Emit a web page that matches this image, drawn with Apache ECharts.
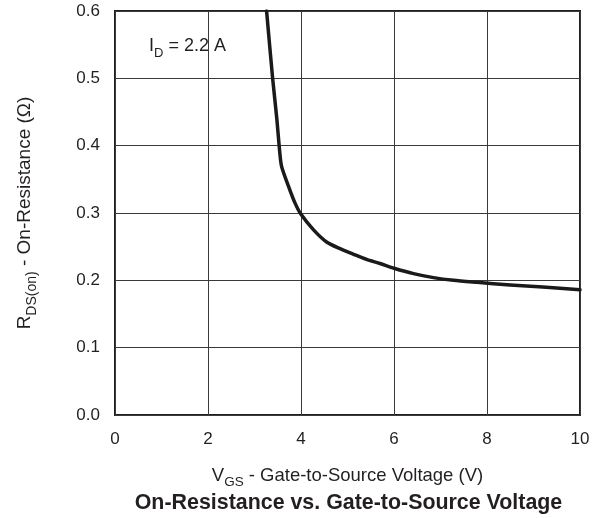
<!DOCTYPE html>
<html>
<head>
<meta charset="utf-8">
<script src="https://cdn.jsdelivr.net/npm/echarts@6/dist/echarts.min.js"></script>
<style>
html,body{margin:0;padding:0;background:#fff;}
#chart{width:598px;height:518px;}
</style>
</head>
<body>
<div id="chart"></div>
<script>
// Data
var vgs = [3.26, 3.39, 3.48, 3.53, 3.58, 3.73, 3.87, 4.0, 4.27, 4.55, 4.84, 5.12, 5.41, 5.7, 6.0, 6.42, 6.85, 7.28, 7.78, 8.5, 9.2, 10.0];
var rds = [0.6, 0.5, 0.44, 0.40, 0.37, 0.34, 0.315, 0.298, 0.275, 0.257, 0.247, 0.239, 0.231, 0.225, 0.218, 0.21, 0.204, 0.2, 0.197, 0.193, 0.19, 0.186];
var xTicks = [0, 2, 4, 6, 8, 10];
var yTicks = ['0.0', '0.1', '0.2', '0.3', '0.4', '0.5', '0.6'];
var titleText = 'On-Resistance vs. Gate-to-Source Voltage';
var idLabel = ['I', 'D', ' = 2.2 A'];
var xName = ['V', 'GS', ' - Gate-to-Source Voltage (V)'];
var yName = ['R', 'DS(on)', ' - On-Resistance (\u03A9)'];

var FONT = '"Liberation Sans", Arial, Helvetica, sans-serif';
var INK = '#231f20';
var G = {left: 115, right: 18, top: 11, bottom: 103};
var W = 598, H = 518;
var cx = G.left + (W - G.left - G.right) / 2;
var cy = G.top + (H - G.top - G.bottom) / 2;

var richSub = function (main, sub) {
  return {
    m: {fontSize: main, lineHeight: main, verticalAlign: 'top', fontFamily: FONT, fill: INK, color: INK},
    s: {fontSize: sub, lineHeight: main + 5, verticalAlign: 'bottom', fontFamily: FONT, fill: INK, color: INK}
  };
};
var rt = function (arr) {
  return '{m|' + arr[0] + '}{s|' + arr[1] + '}{m|' + arr[2] + '}';
};

var chart = echarts.init(document.getElementById('chart'), null, {renderer: 'canvas'});
var data = vgs.map(function (v, i) { return [v, rds[i]]; });

chart.setOption({
  animation: false,
  backgroundColor: '#fff',
  grid: {left: G.left, right: G.right, top: G.top, bottom: G.bottom, show: true,
         borderColor: INK, borderWidth: 2, backgroundColor: 'transparent'},
  xAxis: {
    type: 'value', min: 0, max: 10, interval: 2,
    axisLine: {show: false}, axisTick: {show: false},
    splitLine: {show: true, lineStyle: {color: '#3a3a3a', width: 1}},
    axisLabel: {fontSize: 17, color: INK, fontFamily: FONT, margin: 16,
      formatter: function (v) { var i = xTicks.indexOf(v); return i >= 0 ? String(xTicks[i]) : ''; }}
  },
  yAxis: {
    type: 'value', min: 0, max: 0.6, interval: 0.1,
    axisLine: {show: false}, axisTick: {show: false},
    splitLine: {show: true, lineStyle: {color: '#3a3a3a', width: 1}},
    axisLabel: {fontSize: 17, color: INK, fontFamily: FONT, margin: 15,
      formatter: function (v) { return yTicks[Math.round(v * 10)]; }}
  },
  series: [{
    type: 'line', data: data, smooth: 0.25,
    showSymbol: false, symbol: 'none',
    lineStyle: {color: '#1a1a1a', width: 3.5, join: 'round', cap: 'round'}
  }],
  graphic: [
    {type: 'text', x: 149, y: 37,
     style: {text: rt(idLabel), rich: richSub(18, 13), align: 'left', verticalAlign: 'top'}},
    {type: 'text', x: cx, y: 466,
     style: {text: rt(xName), rich: richSub(18.5, 13.5), align: 'center', verticalAlign: 'top'}},
    {type: 'text', x: 15.5, y: cy, rotation: Math.PI / 2,
     style: {text: rt(yName), rich: richSub(19, 14), align: 'center', verticalAlign: 'top'}},
    {type: 'text', x: cx + 1, y: 503,
     style: {text: titleText, font: 'bold 21.4px ' + FONT, fill: INK, align: 'center', verticalAlign: 'middle'}}
  ]
});
</script>
</body>
</html>
